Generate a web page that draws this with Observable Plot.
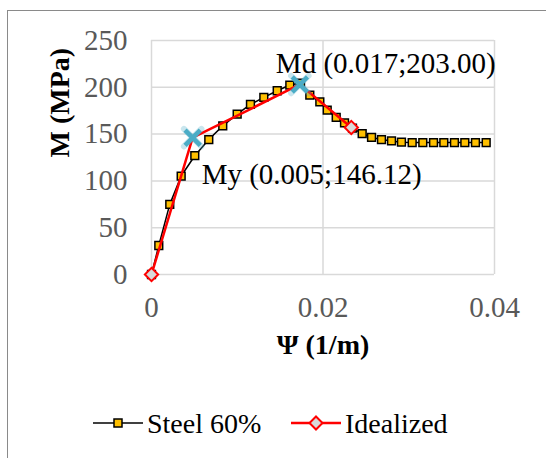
<!DOCTYPE html>
<html>
<head>
<meta charset="utf-8">
<script src="https://cdn.jsdelivr.net/npm/d3@7"></script>
<script src="https://cdn.jsdelivr.net/npm/@observablehq/plot@0.6"></script>
<style>
  html, body { margin: 0; padding: 0; background: #fff; }
  #wrap { position: relative; width: 546px; height: 458px; overflow: hidden; font-family: 'Liberation Serif', 'DejaVu Serif', serif; }
  #wrap svg, #wrap svg text { font-family: 'Liberation Serif', 'DejaVu Serif', serif !important; }
  #frame { position: absolute; left: 7px; top: 10px; width: 700px; height: 600px; border-left: 1.5px solid #8a8a8a; border-top: 1.5px solid #8a8a8a; z-index: 2; pointer-events: none; }
  #chart { position: absolute; left: 0; top: 0; z-index: 1; }
  #legend { position: absolute; left: 0; top: 400px; width: 546px; height: 46px; z-index: 3; }
</style>
</head>
<body>
<div id="wrap">
  <div id="frame"></div>
  <div id="chart"></div>
  <div id="legend"></div>
</div>
<script>
// ---- data ----
const seriesNames = ["Steel 60%", "Idealized"];
const steelX = [0, 0.00085, 0.00213, 0.00346, 0.00505, 0.00668, 0.00831, 0.00999, 0.01154, 0.01310, 0.01466, 0.01613, 0.01738,
  0.01846, 0.01963, 0.02049, 0.02154, 0.02251, 0.02344, 0.02457, 0.02566, 0.02682, 0.02799, 0.02915, 0.03040, 0.03164,
  0.03289, 0.03409, 0.03533, 0.03654, 0.03778, 0.03903];
const steelY = [0, 31.0, 74.9, 105.2, 126.9, 144.2, 158.8, 171.3, 181.7, 189.2, 196.3, 202.4, 204.5,
  191.7, 184.5, 175.6, 167.8, 162.0, 156.3, 150.6, 146.4, 144.2, 142.7, 141.4, 141.0, 141.0,
  141.0, 141.0, 141.0, 141.0, 141.0, 141.0];
const idealX = [0, 0.0048, 0.0173, 0.0233];
const idealY = [0, 146.12, 203.0, 157.0];
const keyPoints = [
  {name: "My", label: "My (0.005;146.12)", x: 0.0048, y: 146.12},
  {name: "Md", label: "Md (0.017;203.00)", x: 0.0173, y: 203.0}
];
const xTicks = [0, 0.02, 0.04];
const xTickLabels = ["0", "0.02", "0.04"];
const yTicks = [0, 50, 100, 150, 200, 250];
const xTitle = "Ψ (1/m)";
const yTitle = "M (MPa)";

// ---- build tables ----
const steel = steelX.map((x, i) => ({x, y: steelY[i]}));
const ideal = idealX.map((x, i) => ({x, y: idealY[i]}));
const idealEnds = [ideal[0], ideal[ideal.length - 1]];

const FONT = "'Liberation Serif', 'DejaVu Serif', serif";
const orange = "#FFC000";
const red = "#FF0000";
const blue = "#4BACC6";
const grid = "#d9d9d9";

const chart = Plot.plot({
  width: 546,
  height: 390,
  marginLeft: 151,
  marginRight: 52,
  marginTop: 40,
  marginBottom: 116,
  style: {fontFamily: FONT, background: "transparent", overflow: "visible"},
  x: {domain: [0, 0.04]},
  y: {domain: [0, 250]},
  marks: [
    Plot.gridY(yTicks, {stroke: grid, strokeOpacity: 1, strokeWidth: 1.5}),
    Plot.gridX(xTicks, {stroke: grid, strokeOpacity: 1, strokeWidth: 1.5}),
    Plot.axisY(yTicks, {tickSize: 0, tickPadding: 24, fontSize: 29, fill: "#595959", label: null}),
    Plot.axisX(xTicks, {tickSize: 0, tickPadding: 22, fontSize: 29, fill: "#595959", label: null,
      tickFormat: d => xTickLabels[xTicks.indexOf(d)]}),
    Plot.text([yTitle], {frameAnchor: "left", rotate: -90, dx: -91, fontSize: 28, fontWeight: "bold", fill: "#000"}),
    Plot.text([xTitle], {frameAnchor: "bottom", dy: 79, fontSize: 28, fontWeight: "bold", fill: "#000"}),
    Plot.line(steel, {x: "x", y: "y", stroke: "#000", strokeWidth: 1.5}),
    Plot.dot(steel, {x: "x", y: "y", symbol: "square", r: 4.4, fill: orange, stroke: "#000", strokeWidth: 1.5}),
    Plot.line(ideal, {x: "x", y: "y", stroke: red, strokeWidth: 2.5}),
    Plot.dot(idealEnds, {x: "x", y: "y", symbol: "diamond2", r: 6, fill: "#d9d9d9", stroke: red, strokeWidth: 2}),
    Plot.dot(keyPoints, {x: "x", y: "y", symbol: "times", r: 8, stroke: blue, strokeWidth: 6, strokeOpacity: 0.3, strokeLinecap: "round"}),
    Plot.dot(keyPoints, {x: "x", y: "y", symbol: "times", r: 7, stroke: blue, strokeWidth: 4.5}),
    Plot.text(keyPoints.filter(d => d.name === "Md"), {x: "x", y: "y", text: "label", textAnchor: "start", dx: -24, dy: -21, fontSize: 29, fill: "#000"}),
    Plot.text(keyPoints.filter(d => d.name === "My"), {x: "x", y: "y", text: "label", textAnchor: "start", dx: 9, dy: 37, fontSize: 29, fill: "#000"})
  ]
});
document.getElementById("chart").appendChild(chart);

// ---- legend ----
const legendItems = [
  {name: seriesNames[0], x0: 93, stroke: "#000", sw: 1.5, marker: "square"},
  {name: seriesNames[1], x0: 291, stroke: red, sw: 2.5, marker: "diamond"}
];
let svg = `<svg width="546" height="46" xmlns="http://www.w3.org/2000/svg">`;
for (const it of legendItems) {
  const cy = 23, x1 = it.x0 + 50, cx = it.x0 + 25;
  svg += `<line x1="${it.x0}" x2="${x1}" y1="${cy}" y2="${cy}" stroke="${it.stroke}" stroke-width="${it.sw}"/>`;
  if (it.marker === "square") {
    svg += `<rect x="${cx - 4}" y="${cy - 4}" width="8" height="8" fill="${orange}" stroke="#000" stroke-width="1.5"/>`;
  } else {
    svg += `<path d="M${cx},${cy - 6.5}L${cx + 6.5},${cy}L${cx},${cy + 6.5}L${cx - 6.5},${cy}Z" fill="#d9d9d9" stroke="${red}" stroke-width="2"/>`;
  }
  svg += `<text x="${x1 + 4}" y="${cy}" dy="0.35em" font-size="28" fill="#000">${it.name}</text>`;
}
svg += `</svg>`;
document.getElementById("legend").innerHTML = svg;
</script>
</body>
</html>
